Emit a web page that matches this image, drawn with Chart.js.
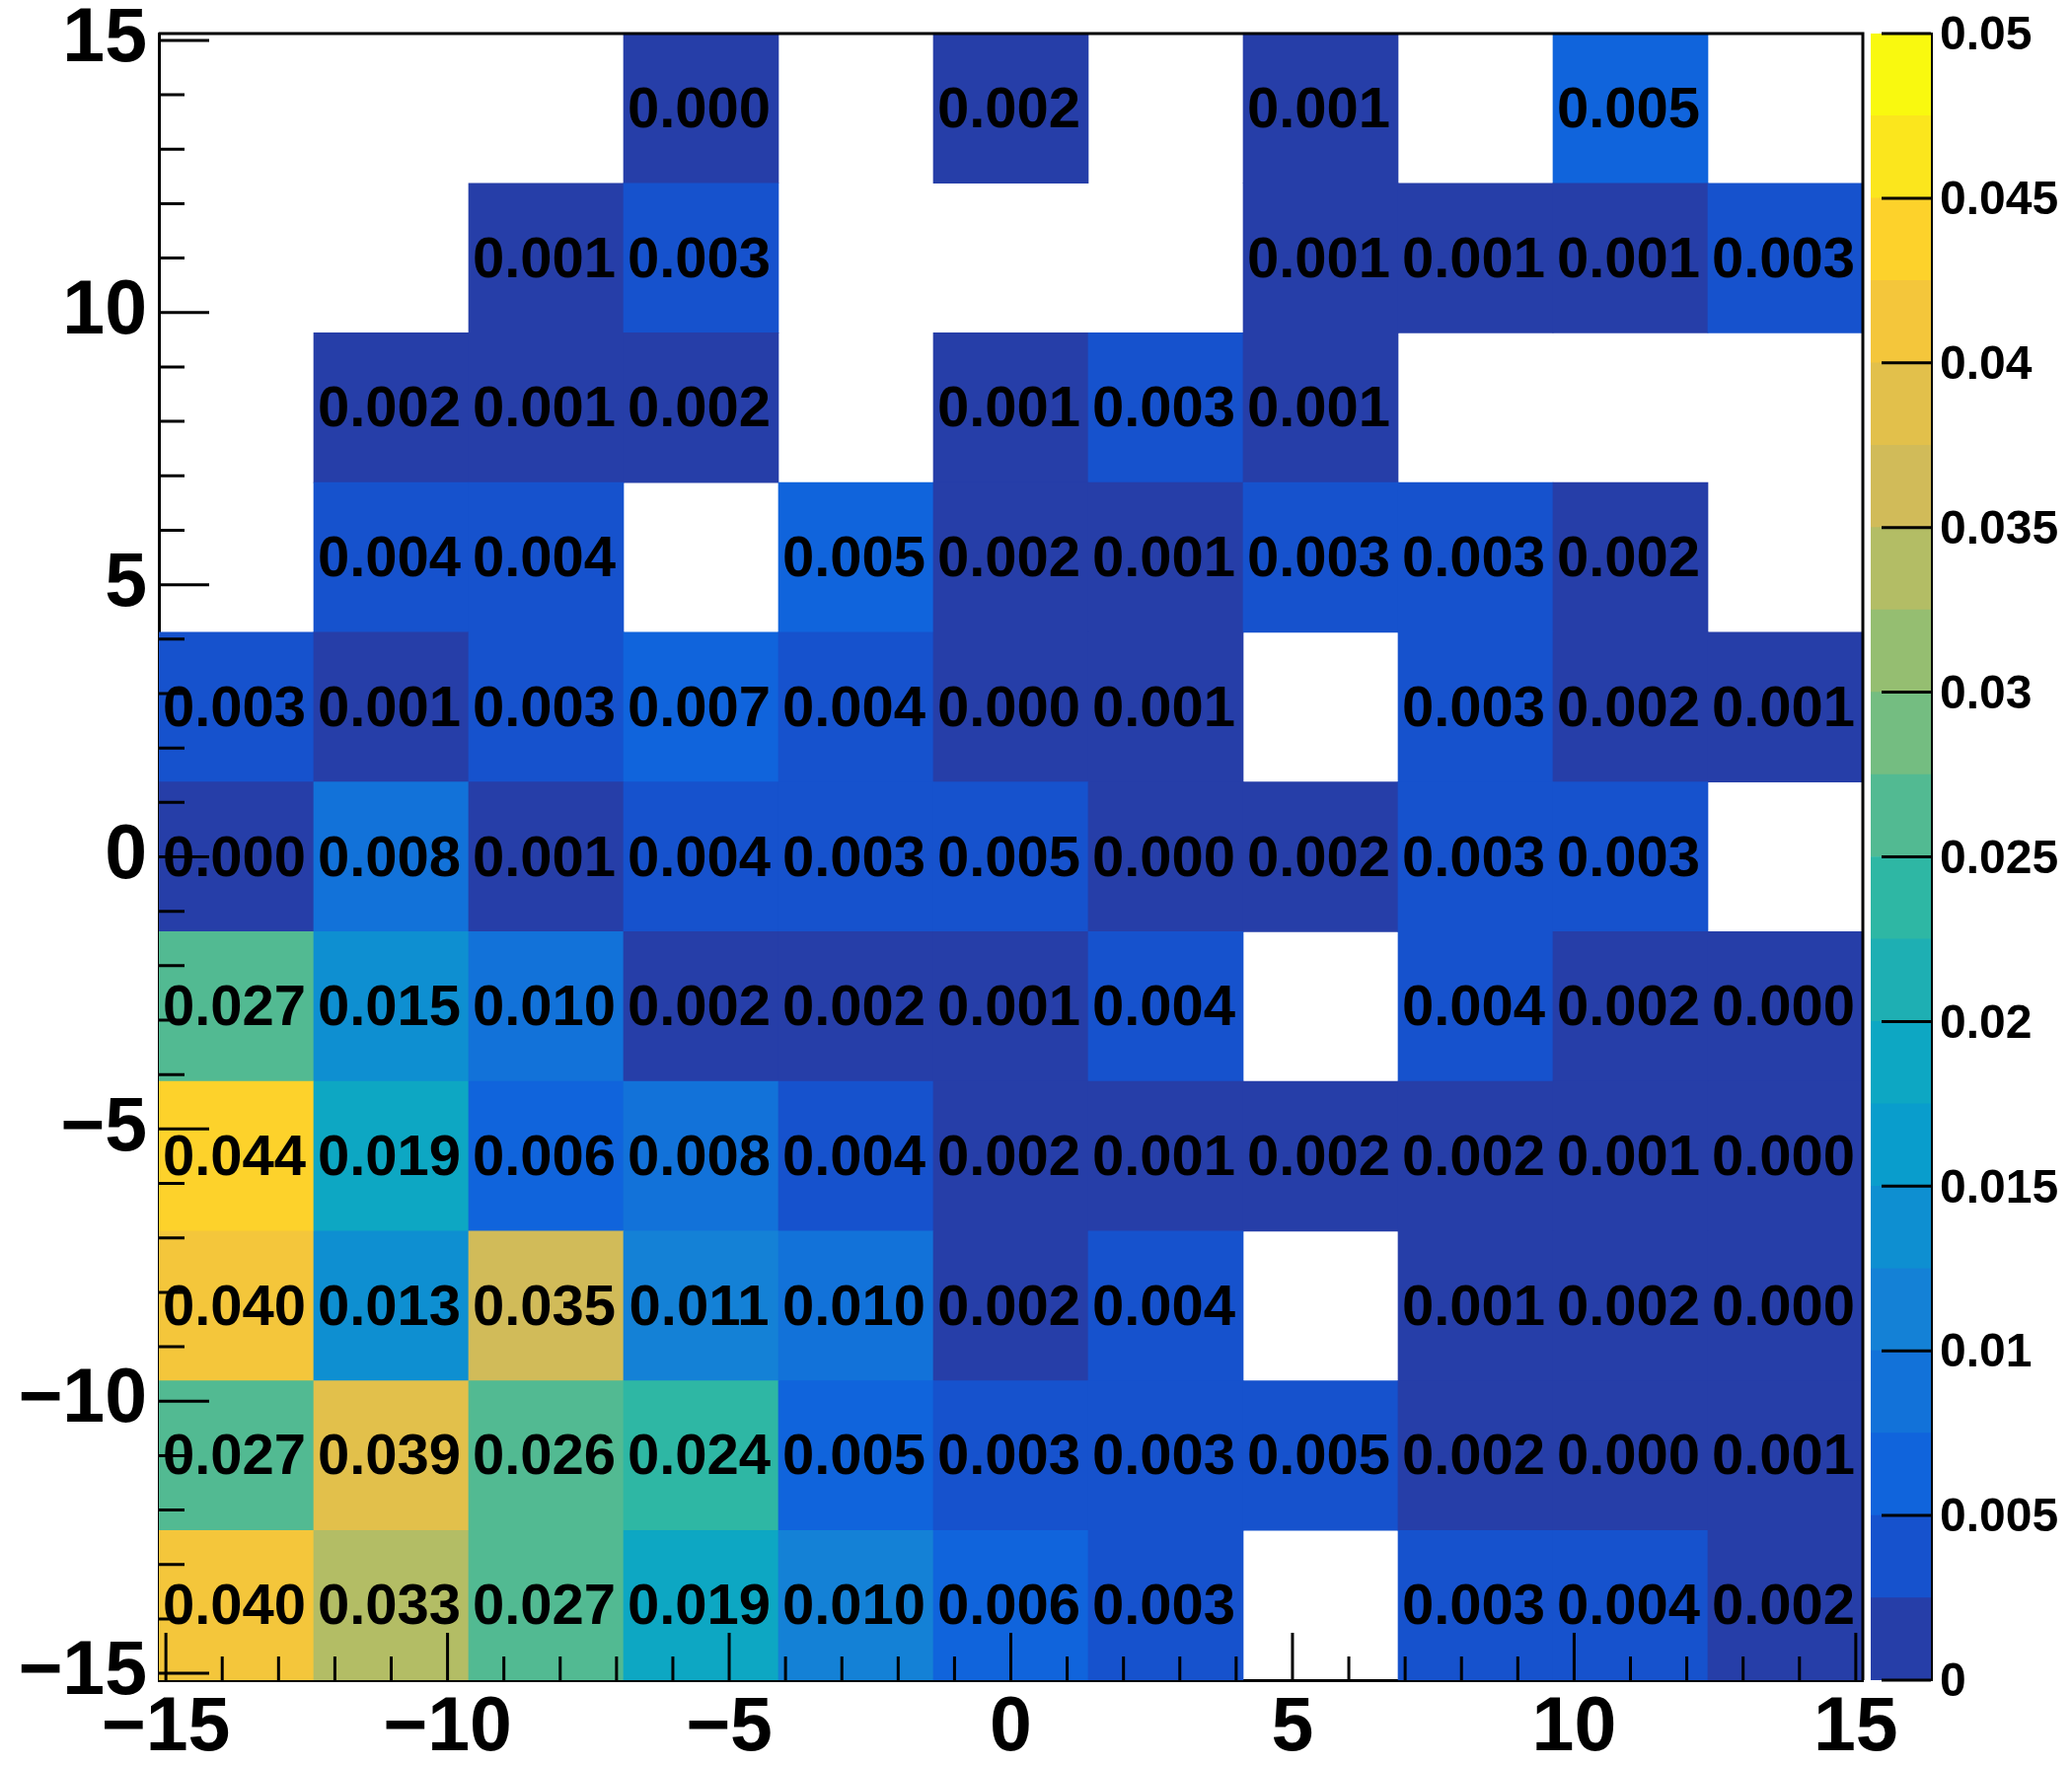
<!DOCTYPE html>
<html>
<head>
<meta charset="utf-8">
<title>2D histogram</title>
<script src="https://cdn.jsdelivr.net/npm/chart.js"></script>
<style>
  html, body { margin: 0; padding: 0; background: #fff; overflow: hidden; }
  #wrap { position: relative; width: 2100px; height: 1789px; }
  #main { position: absolute; left: 0; top: 0; }
  #palette { position: absolute; left: 1860px; top: 0; }
</style>
</head>
<body>
<div id="wrap">
  <canvas id="main" width="2100" height="1789"></canvas>
  <canvas id="palette" width="240" height="1789"></canvas>
</div>
<script>
// ---- data -----------------------------------------------------------------
// bin edges (x left->right, y top->bottom)
const xEdges = [-15.125, -12.375, -9.625, -6.875, -4.125, -1.375, 1.375, 4.125, 6.875, 9.625, 12.375, 15.125];
const yEdges = [15.125, 12.375, 9.625, 6.875, 4.125, 1.375, -1.375, -4.125, -6.875, -9.625, -12.375, -15.125];

// bin contents, one array per y row (top row first), null = empty bin
const row01 = [null,   null,   null,   0.0003, null,   0.0018, null,   0.0012, null,   0.0053, null  ];
const row02 = [null,   null,   0.0011, 0.0031, null,   null,   null,   0.0010, 0.0009, 0.0012, 0.0030];
const row03 = [null,   0.0019, 0.0011, 0.0018, null,   0.0010, 0.0029, 0.0011, null,   null,   null  ];
const row04 = [null,   0.0040, 0.0038, null,   0.0051, 0.0019, 0.0012, 0.0031, 0.0029, 0.0021, null  ];
const row05 = [0.0030, 0.0010, 0.0028, 0.0069, 0.0041, 0.0003, 0.0012, null,   0.0032, 0.0018, 0.0011];
const row06 = [0.0004, 0.0081, 0.0011, 0.0039, 0.0031, 0.0049, 0.0004, 0.0017, 0.0028, 0.0032, null  ];
const row07 = [0.0271, 0.0148, 0.0098, 0.0021, 0.0019, 0.0011, 0.0042, null,   0.0038, 0.0018, 0.0004];
const row08 = [0.0438, 0.0189, 0.0061, 0.0079, 0.0042, 0.0019, 0.0010, 0.0021, 0.0017, 0.0011, 0.0003];
const row09 = [0.0402, 0.0131, 0.0351, 0.0112, 0.0098, 0.0021, 0.0039, null,   0.0012, 0.0019, 0.0004];
const row10 = [0.0268, 0.0392, 0.0262, 0.0241, 0.0052, 0.0031, 0.0029, 0.0048, 0.0021, 0.0003, 0.0012];
const row11 = [0.0401, 0.0331, 0.0269, 0.0191, 0.0102, 0.0061, 0.0031, null,   0.0029, 0.0041, 0.0018];
const zRows = [row01, row02, row03, row04, row05, row06, row07, row08, row09, row10, row11];

// axis ticks and colour contours
const xTicks = [-15, -10, -5, 0, 5, 10, 15];
const yTicks = [-15, -10, -5, 0, 5, 10, 15];
const zLevels = [0, 0.0025, 0.005, 0.0075, 0.01, 0.0125, 0.015, 0.0175, 0.02, 0.0225, 0.025,
                 0.0275, 0.03, 0.0325, 0.035, 0.0375, 0.04, 0.0425, 0.045, 0.0475, 0.05];
const zTicks = [0, 0.005, 0.01, 0.015, 0.02, 0.025, 0.03, 0.035, 0.04, 0.045, 0.05];

// ---- palette (ROOT "bird") ----------------------------------------------------
const birdStops = [0.0000, 0.1250, 0.2500, 0.3750, 0.5000, 0.6250, 0.7500, 0.8750, 1.0000];
const birdRed   = [0.2082, 0.0592, 0.0780, 0.0232, 0.1802, 0.5301, 0.8186, 0.9956, 0.9764];
const birdGreen = [0.1664, 0.3599, 0.5041, 0.6419, 0.7178, 0.7492, 0.7328, 0.7862, 0.9832];
const birdBlue  = [0.5293, 0.8684, 0.8385, 0.7914, 0.6425, 0.4662, 0.3499, 0.1968, 0.0539];
const N_COLORS = 255;

function birdColor(i) {
    for (let g = 1; g < birdStops.length; g++) {
        const a = Math.floor(N_COLORS * birdStops[g - 1]);
        const b = Math.floor(N_COLORS * birdStops[g]);
        if (i < b || g === birdStops.length - 1) {
            const f = (i - a) / (b - a);
            const ch = arr => Math.round(255 * (arr[g - 1] + f * (arr[g] - arr[g - 1])));
            return `rgb(${ch(birdRed)}, ${ch(birdGreen)}, ${ch(birdBlue)})`;
        }
    }
}

const nLevels = zLevels.length - 1;
function levelColor(k) {
    return birdColor(Math.floor((k + 0.99) * N_COLORS / nLevels));
}
function zColor(v) {
    let k = 0;
    while (k < nLevels - 1 && v >= zLevels[k + 1]) k++;
    return levelColor(k);
}

// ---- cells ---------------------------------------------------------------------
const cells = [];
zRows.forEach((row, r) => {
    row.forEach((v, c) => {
        if (v === null) return;
        cells.push({
            x: (xEdges[c] + xEdges[c + 1]) / 2,
            y: [yEdges[r + 1], yEdges[r]],
            z: v
        });
    });
});

const FONT = "'Liberation Sans', Arial, Helvetica, sans-serif";
const axisLabel = v => (v < 0 ? '\u2212' + Math.abs(v) : String(v));

// cell numbers
const cellTextPlugin = {
    id: 'cellText',
    afterDatasetsDraw(chart) {
        const { ctx, scales: { x, y } } = chart;
        ctx.save();
        ctx.font = `bold 58px ${FONT}`;
        ctx.fillStyle = '#000';
        ctx.textAlign = 'center';
        ctx.textBaseline = 'middle';
        cells.forEach(cell => {
            const px = x.getPixelForValue(cell.x) - 2;
            const py = y.getPixelForValue((cell.y[0] + cell.y[1]) / 2) + 3;
            ctx.fillText(cell.z.toFixed(3), px, py);
        });
        ctx.restore();
    }
};

// inward ticks + top/right frame, ROOT style
const frameTicksPlugin = {
    id: 'frameTicks',
    afterDatasetsDraw(chart) {
        const { ctx, chartArea: a, scales: { x, y } } = chart;
        ctx.save();
        ctx.strokeStyle = '#000';
        ctx.lineWidth = 3;
        ctx.beginPath();
        for (let v = -15; v <= 15; v++) {
            const major = v % 5 === 0;
            const px = x.getPixelForValue(v);
            ctx.moveTo(px, a.bottom);
            ctx.lineTo(px, a.bottom - (major ? 48 : 24));
            const py = y.getPixelForValue(v);
            ctx.moveTo(a.left, py);
            ctx.lineTo(a.left + (major ? 51 : 26), py);
        }
        // top and right sides of the frame
        ctx.moveTo(a.left, a.top);
        ctx.lineTo(a.right, a.top);
        ctx.lineTo(a.right, a.bottom);
        ctx.stroke();
        ctx.restore();
    }
};

new Chart(document.getElementById('main'), {
    type: 'bar',
    data: {
        datasets: [{
            data: cells,
            backgroundColor: c => (c.raw ? zColor(c.raw.z) : '#fff'),
            borderWidth: 0,
            barPercentage: 1,
            categoryPercentage: 1
        }]
    },
    options: {
        responsive: false,
        animation: false,
        devicePixelRatio: 1,
        layout: { padding: { left: 0, top: 34, right: 212, bottom: 0 }, autoPadding: false },
        plugins: { legend: { display: false }, tooltip: { enabled: false } },
        scales: {
            x: {
                type: 'linear',
                min: -15.125,
                max: 15.125,
                offset: false,
                z: 1,
                afterBuildTicks: s => { s.ticks = xTicks.map(v => ({ value: v })); },
                afterFit: s => { s.height = 86; s.paddingLeft = 0; s.paddingRight = 0; },
                grid: { display: false, drawTicks: false },
                border: { display: true, color: '#000', width: 3 },
                ticks: {
                    color: '#000',
                    padding: 11,
                    maxRotation: 0,
                    autoSkip: false,
                    font: { family: FONT, size: 77, weight: 'bold', lineHeight: 1 },
                    callback: v => axisLabel(v)
                }
            },
            y: {
                type: 'linear',
                min: -15.125,
                max: 15.125,
                z: 1,
                afterBuildTicks: s => { s.ticks = yTicks.map(v => ({ value: v })); },
                afterFit: s => { s.width = 161; s.paddingTop = 0; s.paddingBottom = 0; },
                grid: { display: false, drawTicks: false },
                border: { display: true, color: '#000', width: 3 },
                ticks: {
                    color: '#000',
                    padding: 12,
                    autoSkip: false,
                    font: { family: FONT, size: 77, weight: 'bold', lineHeight: 1 },
                    callback: v => axisLabel(v)
                }
            }
        }
    },
    plugins: [cellTextPlugin, frameTicksPlugin]
});

// ---- colour scale ------------------------------------------------------------------
const paletteTicksPlugin = {
    id: 'paletteTicks',
    afterDatasetsDraw(chart) {
        const { ctx, chartArea: a, scales: { y } } = chart;
        ctx.save();
        ctx.strokeStyle = '#000';
        ctx.lineWidth = 3;
        ctx.beginPath();
        zTicks.forEach(v => {
            const py = y.getPixelForValue(v);
            ctx.moveTo(a.right - 50, py);
            ctx.lineTo(a.right, py);
        });
        ctx.stroke();
        ctx.restore();
    }
};

new Chart(document.getElementById('palette'), {
    type: 'bar',
    data: {
        labels: [''],
        datasets: zLevels.slice(0, -1).map((lo, k) => ({
            data: [[lo, zLevels[k + 1]]],
            backgroundColor: levelColor(k),
            borderWidth: 0,
            grouped: false,
            barPercentage: 1,
            categoryPercentage: 1
        }))
    },
    options: {
        responsive: false,
        animation: false,
        devicePixelRatio: 1,
        layout: { padding: { left: 36, top: 34, right: 0, bottom: 86 }, autoPadding: false },
        plugins: { legend: { display: false }, tooltip: { enabled: false } },
        scales: {
            x: { display: false },
            y: {
                position: 'right',
                min: 0,
                max: 0.05,
                z: 1,
                afterBuildTicks: s => { s.ticks = zTicks.map(v => ({ value: v })); },
                afterFit: s => { s.width = 143; s.paddingTop = 0; s.paddingBottom = 0; },
                grid: { display: false, drawTicks: false },
                border: { display: true, color: '#000', width: 3 },
                ticks: {
                    color: '#000',
                    padding: 9,
                    labelOffset: 3,
                    autoSkip: false,
                    font: { family: FONT, size: 48, weight: 'bold', lineHeight: 1 },
                    callback: v => String(parseFloat(v.toFixed(4)))
                }
            }
        }
    },
    plugins: [paletteTicksPlugin]
});
</script>
</body>
</html>
